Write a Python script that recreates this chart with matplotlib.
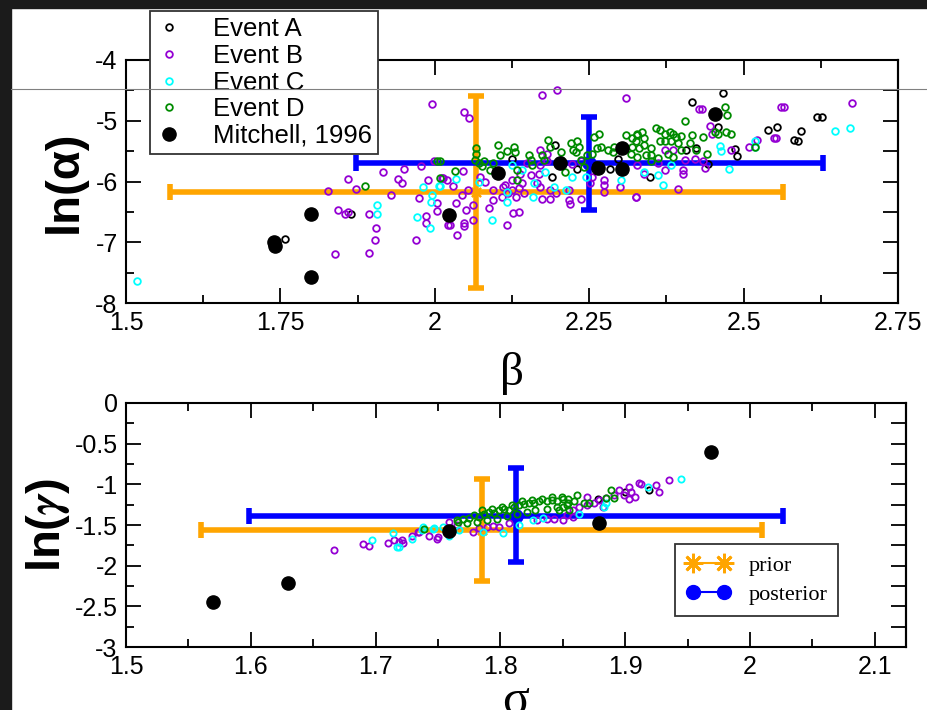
import numpy as np
import matplotlib
matplotlib.use('Agg')
import matplotlib.pyplot as plt
from matplotlib.lines import Line2D
from matplotlib.patches import Rectangle

plt.rcParams.update({
    'font.family': 'Liberation Sans',
    'font.size': 18,
    'axes.linewidth': 1.5,
    'axes.unicode_minus': False,
    'mathtext.fontset': 'stix',
})

# ---- data: top panel, (beta, ln alpha) ----
a_top = [(1.864, -6.53), (1.757, -6.95), (2.125, -5.63), (2.190, -5.93), (2.195, -5.40),
         (2.231, -5.80), (2.283, -5.80), (2.296, -5.63), (2.261, -5.73), (2.466, -4.55),
         (2.416, -4.69), (2.459, -5.10), (2.540, -5.15), (2.554, -5.11), (2.593, -5.17),
         (2.582, -5.31), (2.588, -5.33), (2.627, -4.93), (2.486, -5.47), (2.490, -5.58),
         (2.423, -5.45), (2.407, -5.48), (2.349, -5.92), (2.442, -5.71), (2.619, -4.94)]
b_top = [(1.995, -4.72), (1.827, -6.16), (1.860, -5.96), (1.873, -6.13), (1.916, -5.85),
         (1.950, -5.79), (1.941, -5.96), (1.947, -6.03), (1.929, -6.23), (1.978, -5.74),
         (1.989, -5.98), (1.974, -6.27), (1.843, -6.47), (1.855, -6.53), (1.860, -6.51),
         (1.894, -6.53), (1.904, -6.77), (1.903, -6.97), (1.839, -7.20), (1.894, -7.17),
         (1.985, -6.56), (1.985, -6.68), (1.969, -6.97), (2.003, -6.35), (2.004, -6.49),
         (1.999, -5.66), (2.011, -5.95), (2.019, -5.98), (2.022, -6.72),
         (2.174, -4.58), (2.198, -4.49), (2.309, -4.63), (2.047, -4.86), (2.056, -4.96),
         (2.014, -5.95), (2.030, -6.07), (2.046, -5.82), (2.053, -6.14), (2.044, -6.22),
         (2.035, -6.36), (2.050, -6.47), (2.062, -6.39), (2.047, -6.69), (2.047, -6.74),
         (2.036, -6.88), (2.062, -6.63), (2.024, -6.72), (2.088, -6.43), (2.095, -6.30),
         (2.108, -6.25), (2.119, -6.19), (2.125, -6.14), (2.117, -6.72), (2.126, -6.52),
         (2.137, -6.51), (2.132, -6.26), (2.144, -6.19), (2.114, -6.06), (2.125, -5.98),
         (2.138, -5.87), (2.155, -5.89), (2.168, -5.87), (2.171, -6.09), (2.187, -6.14),
         (2.197, -6.19), (2.165, -6.03), (2.174, -6.28), (2.187, -6.28), (2.217, -6.14),
         (2.217, -6.30), (2.219, -6.37), (2.236, -6.28), (2.274, -5.98), (2.274, -6.06),
         (2.274, -6.17), (2.300, -6.09), (2.326, -6.25), (2.073, -5.92), (2.081, -6.00),
         (2.095, -6.14), (2.111, -6.09), (2.149, -5.70), (2.171, -5.73), (2.182, -5.67),
         (2.171, -5.48), (2.182, -5.54), (2.222, -5.71), (2.236, -5.67), (2.252, -6.03),
         (2.255, -5.92), (2.136, -6.11), (2.141, -6.03), (2.432, -4.81), (2.566, -4.77),
         (2.445, -5.09), (2.448, -5.21), (2.553, -5.29), (2.521, -5.32), (2.508, -5.44),
         (2.480, -5.48), (2.405, -5.65), (2.421, -5.63), (2.434, -5.67), (2.437, -5.78),
         (2.402, -5.81), (2.402, -5.87), (2.372, -5.81), (2.361, -5.70), (2.328, -5.73),
         (2.339, -5.87), (2.393, -6.13), (2.326, -6.25), (2.385, -5.48), (2.372, -5.48),
         (2.676, -4.71), (2.560, -4.77), (2.549, -5.29), (2.427, -4.80)]
c_top = [(1.517, -7.64), (1.907, -6.38), (1.907, -6.53), (1.981, -6.09), (1.996, -6.23),
         (1.993, -6.33), (2.006, -6.07), (1.971, -6.58), (1.992, -6.77), (2.035, -5.96),
         (2.072, -6.00), (2.092, -6.64), (2.117, -6.17), (2.117, -6.33), (2.125, -5.73),
         (2.141, -5.81), (2.160, -6.03), (2.159, -6.25), (2.179, -5.84), (2.193, -6.09),
         (2.213, -6.14), (2.222, -5.92), (2.244, -5.92), (2.301, -5.98), (2.008, -6.07),
         (2.461, -5.42), (2.464, -5.49), (2.518, -5.34), (2.519, -5.43), (2.476, -5.80),
         (2.369, -6.06), (2.361, -5.89), (2.339, -5.84), (2.383, -5.73), (2.648, -5.17),
         (2.673, -5.12)]
d_top = [(1.887, -6.07), (2.004, -5.66), (2.008, -5.95), (2.008, -5.67), (2.033, -5.82),
         (2.067, -5.45), (2.067, -5.55), (2.065, -5.65), (2.071, -5.69), (2.076, -5.74),
         (2.079, -5.67), (2.103, -5.40), (2.105, -5.56), (2.117, -5.49), (2.128, -5.43),
         (2.130, -5.51), (2.133, -5.81), (2.133, -5.98), (2.152, -5.56), (2.155, -5.65),
         (2.158, -5.73), (2.184, -5.32), (2.187, -5.43), (2.174, -5.56), (2.177, -5.65),
         (2.204, -5.51), (2.204, -5.65), (2.210, -5.84), (2.220, -5.37), (2.223, -5.48),
         (2.231, -5.34), (2.228, -5.51), (2.233, -5.43), (2.236, -5.65), (2.247, -5.56),
         (2.242, -5.76), (2.258, -5.26), (2.266, -5.21), (2.255, -5.54), (2.263, -5.45),
         (2.269, -5.43), (2.280, -5.48), (2.290, -5.43), (2.288, -5.51), (2.309, -5.23),
         (2.320, -5.29), (2.328, -5.21), (2.090, -5.81), (2.095, -5.70), (2.470, -4.78),
         (2.473, -4.91), (2.452, -4.91), (2.405, -5.00), (2.434, -5.26), (2.417, -5.23),
         (2.471, -5.18), (2.479, -5.21), (2.453, -5.18), (2.458, -5.21), (2.328, -5.23),
         (2.336, -5.18), (2.339, -5.29), (2.326, -5.34), (2.320, -5.43), (2.331, -5.45),
         (2.339, -5.40), (2.350, -5.45), (2.358, -5.12), (2.364, -5.15), (2.372, -5.21),
         (2.380, -5.18), (2.385, -5.21), (2.391, -5.26), (2.399, -5.25), (2.364, -5.34),
         (2.372, -5.34), (2.383, -5.34), (2.393, -5.37), (2.350, -5.56), (2.361, -5.62),
         (2.377, -5.54), (2.385, -5.59), (2.399, -5.48), (2.413, -5.37), (2.423, -5.48),
         (2.440, -5.54), (2.318, -5.54), (2.342, -5.56), (2.328, -5.59), (2.350, -5.67),
         (2.519, -5.43)]
mitchell_top = [(2.103, -5.86), (2.202, -5.70), (2.264, -5.78), (2.303, -5.45), (2.303, -5.80),
                (2.453, -4.89), (2.023, -6.55), (1.800, -6.53), (1.740, -7.00), (1.742, -7.06),
                (1.800, -7.57)]

# ---- data: bottom panel, (sigma, ln gamma) ----
a_bot = [(1.919, -1.07), (1.900, -1.09), (1.878, -1.18)]
b_bot = [(1.667, -1.81), (1.690, -1.73), (1.695, -1.76), (1.710, -1.72), (1.715, -1.69),
         (1.719, -1.71), (1.722, -1.72), (1.729, -1.64), (1.734, -1.58), (1.743, -1.64),
         (1.750, -1.65), (1.721, -1.69), (1.735, -1.58), (1.749, -1.67), (1.778, -1.58),
         (1.783, -1.54), (1.789, -1.53), (1.794, -1.51), (1.799, -1.53), (1.807, -1.48),
         (1.829, -1.44), (1.837, -1.43), (1.843, -1.42), (1.850, -1.44), (1.759, -1.46),
         (1.765, -1.50), (1.935, -0.95), (1.925, -1.01), (1.927, -1.09), (1.911, -0.98),
         (1.913, -0.99), (1.903, -1.03), (1.905, -1.09), (1.908, -1.15), (1.903, -1.18),
         (1.899, -1.13), (1.895, -1.07), (1.891, -1.13), (1.885, -1.17), (1.879, -1.19),
         (1.875, -1.23), (1.869, -1.25), (1.863, -1.28), (1.858, -1.32), (1.853, -1.38),
         (1.858, -1.40), (1.869, -1.15), (1.882, -1.28)]
c_bot = [(1.697, -1.69), (1.714, -1.60), (1.717, -1.77), (1.738, -1.53), (1.747, -1.54),
         (1.754, -1.52), (1.759, -1.64), (1.719, -1.77), (1.729, -1.67), (1.737, -1.56),
         (1.746, -1.55), (1.786, -1.58), (1.802, -1.60), (1.815, -1.50), (1.826, -1.44),
         (1.834, -1.41), (1.767, -1.56), (1.945, -0.93), (1.918, -1.03), (1.885, -1.23),
         (1.883, -1.28), (1.863, -1.36)]
d_bot = [(1.739, -1.55), (1.766, -1.46), (1.765, -1.44), (1.770, -1.42), (1.775, -1.41),
         (1.779, -1.38), (1.783, -1.40), (1.787, -1.37), (1.791, -1.34), (1.795, -1.35),
         (1.799, -1.32), (1.803, -1.30), (1.807, -1.32), (1.811, -1.28), (1.815, -1.25),
         (1.819, -1.24), (1.823, -1.23), (1.827, -1.23), (1.831, -1.21), (1.837, -1.21),
         (1.841, -1.19), (1.845, -1.20), (1.850, -1.18), (1.854, -1.18), (1.773, -1.48),
         (1.781, -1.46), (1.789, -1.44), (1.797, -1.42), (1.805, -1.39), (1.813, -1.37),
         (1.821, -1.34), (1.828, -1.32), (1.837, -1.30), (1.845, -1.28), (1.853, -1.25),
         (1.785, -1.32), (1.793, -1.30), (1.801, -1.28), (1.809, -1.25), (1.817, -1.21),
         (1.825, -1.19), (1.833, -1.18), (1.841, -1.16), (1.849, -1.15), (1.861, -1.13),
         (1.859, -1.21), (1.854, -1.23), (1.850, -1.28), (1.847, -1.32), (1.889, -1.07),
         (1.891, -1.17), (1.885, -1.17), (1.871, -1.23), (1.867, -1.23), (1.855, -1.32)]
mitchell_bot = [(1.570, -2.45), (1.630, -2.21), (1.759, -1.57), (1.879, -1.48), (1.969, -0.60)]

# prior / posterior: centre, x error, (lower, upper) y error
prior_top = (2.067, -6.17, 0.496, (1.58, 1.58))
post_top = (2.250, -5.70, 0.378, (0.77, 0.76))
prior_bot = (1.785, -1.56, 0.225, (0.63, 0.63))
post_bot = (1.8125, -1.385, 0.214, (0.575, 0.585))

events = ['Event A', 'Event B', 'Event C', 'Event D']
ev_colors = ['black', '#9400d3', 'cyan', '#008b00']
ASTER = (8, 2, 0)

fig = plt.figure(figsize=(9.28, 7.10), dpi=100)
ax1 = fig.add_axes([0.1358, 0.5732, 0.8319, 0.3423])
ax2 = fig.add_axes([0.1358, 0.0887, 0.8405, 0.3437])


def draw_panel(ax, ev_data, mitch, prior, post, ms):
    for (cx, cy, xe, ye), col, mk in [(prior, 'orange', ASTER), (post, 'blue', 'o')]:
        ax.errorbar([cx], [cy], xerr=[xe], yerr=[[ye[0]], [ye[1]]], fmt='none',
                    ecolor=col, elinewidth=4, capsize=6, capthick=4, zorder=2)
        ax.plot([cx], [cy], marker=mk, color=col, ms=9, mew=1.5, ls='none', zorder=2)
    for pts, col, lab in zip(ev_data, ev_colors, events):
        p = np.array(pts)
        ax.plot(p[:, 0], p[:, 1], 'o', mfc='none', mec=col, ms=ms, mew=1.3,
                label=lab, zorder=3)
    m = np.array(mitch)
    ax.plot(m[:, 0], m[:, 1], 'o', color='black', ms=9.5, label='Mitchell, 1996', zorder=4)


def style_axes(ax, major_x, major_y, minor_y):
    ax.xaxis.set_major_locator(plt.MultipleLocator(major_x))
    ax.xaxis.set_minor_locator(plt.MultipleLocator(major_x / 2))
    ax.yaxis.set_major_locator(plt.MultipleLocator(major_y))
    ax.yaxis.set_minor_locator(plt.MultipleLocator(minor_y))
    ax.tick_params(which='both', direction='in', top=True, right=False, width=1.3)
    ax.tick_params(which='major', length=11, pad=6, labelsize=18)
    ax.tick_params(which='minor', length=5.5)
    sec = ax.secondary_yaxis('right')
    lo, hi = ax.get_ylim()
    sec.set_yticks(np.arange(lo, hi + 1e-6, minor_y))
    sec.tick_params(direction='in', length=11, width=1.3, labelright=False)
    sec.spines['right'].set_linewidth(1.5)


draw_panel(ax1, [a_top, b_top, c_top, d_top], mitchell_top, prior_top, post_top, 4.8)
ax1.set_xlim(1.5, 2.75)
ax1.set_ylim(-8, -4)
style_axes(ax1, 0.25, 1, 0.5)
ax1.set_xticks([1.5, 1.75, 2.0, 2.25, 2.5, 2.75])
ax1.set_xticklabels(['1.5', '1.75', '2', '2.25', '2.5', '2.75'])
ax1.set_yticks([-8, -7, -6, -5, -4])
ax1.set_xlabel('β', family='Liberation Serif', fontsize=34, labelpad=12)
ax1.set_ylabel('ln(α)', fontsize=34, fontweight='bold', labelpad=6)

draw_panel(ax2, [a_bot, b_bot, c_bot, d_bot], mitchell_bot, prior_bot, post_bot, 4.5)
ax2.set_xlim(1.5, 2.125)
ax2.set_ylim(-3, 0)
style_axes(ax2, 0.1, 0.5, 0.25)
ax2.set_xticks([1.5, 1.6, 1.7, 1.8, 1.9, 2.0, 2.1])
ax2.set_xticklabels(['1.5', '1.6', '1.7', '1.8', '1.9', '2', '2.1'])
ax2.set_yticks([-3, -2.5, -2, -1.5, -1, -0.5, 0])
ax2.set_yticklabels(['-3', '-2.5', '-2', '-1.5', '-1', '-0.5', '0'])
ax2.set_xlabel('σ', family='Liberation Serif', fontsize=36, labelpad=-1)
ax2.set_ylabel(r'ln($\boldsymbol{\gamma}$)', fontsize=34, fontweight='bold', labelpad=2)

# event legend (upper panel)
leg1 = ax1.legend(loc='upper left', bbox_to_anchor=(150 / 928, 1 - 11 / 710),
                  bbox_transform=fig.transFigure, fontsize=18.5, numpoints=1,
                  fancybox=False, framealpha=1, borderaxespad=0, borderpad=0.25,
                  labelspacing=0.1, handlelength=1.0, handletextpad=1.2)
leg1.get_frame().set_edgecolor('#333333')
leg1.get_frame().set_linewidth(1.3)
leg1.set_zorder(10)

# prior / posterior legend (lower panel)
h_prior = Line2D([], [], color='orange', marker=ASTER, ms=14, mew=2, lw=1.5)
h_post = Line2D([], [], color='blue', marker='o', ms=10, lw=1.5)
leg2 = ax2.legend([h_prior, h_post], ['prior', 'posterior'], loc='upper left',
                  bbox_to_anchor=(675 / 928, 1 - 544 / 710), bbox_transform=fig.transFigure,
                  prop={'family': 'Liberation Serif', 'size': 16}, numpoints=2,
                  fancybox=False, framealpha=1, borderaxespad=0, borderpad=0.5,
                  labelspacing=0.4, handlelength=2.0, handletextpad=0.8)
leg2.get_frame().set_edgecolor('#333333')
leg2.get_frame().set_linewidth(1.3)

# screenshot border and the stray grey line
fig.add_artist(Rectangle((0, 1 - 8 / 710), 1, 8 / 710, transform=fig.transFigure,
                         color='#1b1b1b', zorder=20))
fig.add_artist(Rectangle((0, 0), 11 / 928, 1, transform=fig.transFigure,
                         color='#1b1b1b', zorder=20))
fig.add_artist(Line2D([11 / 928, 1], [1 - 89 / 710] * 2, transform=fig.transFigure,
                      color='#808080', lw=0.8, zorder=21))

fig.savefig('out.png', dpi=100)
